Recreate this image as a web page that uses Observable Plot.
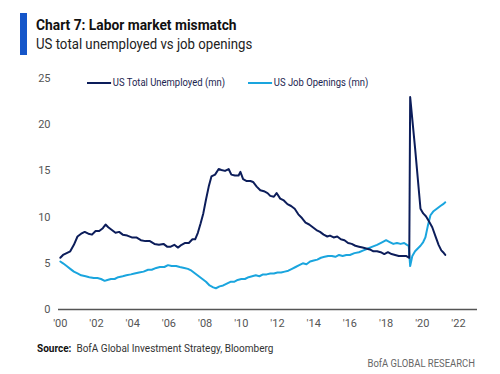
<!DOCTYPE html>
<html>
<head>
<meta charset="utf-8">
<script src="https://cdn.jsdelivr.net/npm/d3@7"></script>
<script src="https://cdn.jsdelivr.net/npm/@observablehq/plot@0.6"></script>
<style>
  body { margin: 0; background: #fff; }
  #wrap { position: relative; width: 500px; height: 374px; background: #fff; overflow: hidden;
          font-family: "Roboto", "Liberation Sans", sans-serif; color: #222; }
  .abs { position: absolute; white-space: nowrap; transform-origin: left top; }
  #bar { left: 20px; top: 13px; width: 7px; height: 42px; background: #1556c9; }
  #title { left: 36px; top: 16px; font-size: 15px; font-weight: bold; color: #111; transform: scaleX(0.92); }
  #subtitle { left: 36px; top: 35px; font-size: 15px; color: #222; transform: scaleX(0.88); }
  #chart { left: 0; top: 60px; }
  .leg { top: 76px; font-size: 11px; color: #1b2550; display: flex; align-items: center; transform: scaleX(0.86); }
  .leg span.sw { display: inline-block; width: 28px; height: 2px; margin-right: 2px; }
  #source { left: 37px; top: 342px; font-size: 11px; color: #333; transform: scaleX(0.91); }
  #source b { color: #111; }
  #brand { right: 25px; top: 357px; font-size: 11px; color: #666; transform: scaleX(0.86); transform-origin: right top; }
</style>
</head>
<body>
<div id="wrap">
  <div id="bar" class="abs"></div>
  <div id="title" class="abs">Chart 7: Labor market mismatch</div>
  <div id="subtitle" class="abs">US total unemployed vs job openings</div>
  <div id="chart" class="abs"></div>
  <div class="abs leg" style="left:87px"><span class="sw" style="background:#0c1d5a"></span>US Total Unemployed (mn)</div>
  <div class="abs leg" style="left:248px"><span class="sw" style="background:#1aa5de"></span>US Job Openings (mn)</div>
  <div id="source" class="abs"><b>Source:</b>&nbsp; BofA Global Investment Strategy, Bloomberg</div>
  <div id="brand" class="abs">BofA GLOBAL RESEARCH</div>
</div>
<script>
// ---- Data (x in decimal years) ----
const unemployedDates = [2000.0,2000.15,2000.35,2000.55,2000.75,2000.95,2001.15,2001.35,2001.55,2001.75,2001.95,2002.15,2002.35,2002.5,2002.65,2002.85,2003.05,2003.25,2003.45,2003.7,2003.95,2004.2,2004.45,2004.7,2004.95,2005.2,2005.45,2005.7,2005.9,2006.1,2006.3,2006.5,2006.7,2006.9,2007.1,2007.3,2007.45,2007.6,2007.75,2007.9,2008.05,2008.2,2008.35,2008.55,2008.75,2008.9,2009.1,2009.3,2009.45,2009.65,2009.85,2009.95,2010.1,2010.3,2010.5,2010.65,2010.85,2011.05,2011.25,2011.45,2011.6,2011.8,2011.95,2012.15,2012.35,2012.55,2012.75,2012.95,2013.15,2013.35,2013.55,2013.75,2013.95,2014.15,2014.35,2014.55,2014.75,2014.9,2015.1,2015.3,2015.5,2015.7,2015.9,2016.1,2016.3,2016.5,2016.7,2016.9,2017.1,2017.3,2017.5,2017.7,2017.9,2018.1,2018.3,2018.5,2018.7,2018.9,2019.1,2019.28,2019.33,2019.6,2019.9,2020.05,2020.2,2020.35,2020.55,2020.75,2020.9,2021.05,2021.15,2021.27];
const unemployedValues = [5.6,5.9,6.1,6.3,7.0,7.9,8.2,8.4,8.2,8.1,8.5,8.5,8.8,9.2,8.9,8.6,8.3,8.4,8.1,8.0,7.8,7.8,7.5,7.4,7.4,7.1,7.0,7.1,6.8,6.8,7.0,6.7,7.0,7.2,7.2,7.6,7.6,8.3,9.3,10.4,11.9,13.3,14.4,14.6,15.2,15.1,15.0,15.2,14.6,14.5,14.5,14.9,14.1,13.9,13.9,13.8,13.3,12.9,12.8,12.6,12.3,12.2,12.6,12.0,11.8,11.4,11.2,10.9,10.3,9.9,9.4,9.2,8.9,8.6,8.4,8.1,7.9,8.0,7.8,7.9,7.6,7.5,7.2,7.1,6.9,6.8,6.7,6.6,6.5,6.3,6.3,6.2,6.0,6.2,6.0,5.9,5.8,5.8,5.8,5.6,23.0,17.5,10.9,10.4,10.1,9.6,8.9,7.8,7.0,6.4,6.2,5.9];

const openingsDates = [2000.0,2000.15,2000.35,2000.55,2000.75,2000.95,2001.15,2001.4,2001.6,2001.85,2002.05,2002.25,2002.45,2002.6,2002.8,2003.0,2003.2,2003.45,2003.65,2003.9,2004.1,2004.35,2004.6,2004.85,2005.05,2005.3,2005.5,2005.75,2005.95,2006.15,2006.4,2006.6,2006.85,2007.05,2007.25,2007.45,2007.65,2007.85,2008.05,2008.25,2008.45,2008.6,2008.8,2009.0,2009.2,2009.4,2009.6,2009.8,2010.0,2010.2,2010.4,2010.6,2010.8,2011.0,2011.2,2011.4,2011.6,2011.8,2012.0,2012.2,2012.4,2012.6,2012.8,2013.0,2013.2,2013.4,2013.6,2013.8,2014.0,2014.2,2014.4,2014.6,2014.8,2015.0,2015.2,2015.4,2015.6,2015.8,2016.0,2016.25,2016.5,2016.75,2017.0,2017.25,2017.5,2017.8,2018.0,2018.2,2018.4,2018.6,2018.8,2019.0,2019.15,2019.25,2019.33,2019.45,2019.6,2019.75,2019.9,2020.05,2020.17,2020.3,2020.45,2020.6,2020.8,2021.0,2021.15,2021.27];
const openingsValues = [5.2,5.0,4.7,4.4,4.1,3.9,3.7,3.6,3.5,3.4,3.4,3.3,3.1,3.2,3.3,3.3,3.5,3.6,3.7,3.8,3.9,4.0,4.1,4.3,4.3,4.5,4.6,4.6,4.8,4.7,4.7,4.6,4.5,4.4,4.2,3.9,3.6,3.3,3.0,2.6,2.4,2.3,2.5,2.6,2.8,3.0,3.0,3.2,3.3,3.3,3.5,3.6,3.7,3.6,3.8,3.8,3.9,3.9,4.0,4.0,4.1,4.2,4.4,4.6,4.8,5.0,4.9,5.2,5.3,5.4,5.6,5.7,5.8,5.8,5.7,5.9,5.8,5.9,5.9,6.1,6.2,6.4,6.6,6.8,7.0,7.3,7.5,7.3,7.1,7.2,7.1,7.2,7.0,6.9,4.7,5.8,6.3,6.6,6.9,7.3,7.8,9.0,10.2,10.6,10.9,11.2,11.4,11.6];

const xTickValues = [2000,2002,2004,2006,2008,2010,2012,2014,2016,2018,2020,2022];
const xTickLabels = ["'00","'02","'04","'06","'08","'10","'12","'14","'16","'18","'20","'22"];
const yTickValues = [0,5,10,15,20,25];

const unemployed = unemployedDates.map((d, i) => ({date: d, value: unemployedValues[i]}));
const openings = openingsDates.map((d, i) => ({date: d, value: openingsValues[i]}));

const chart = Plot.plot({
  width: 500,
  height: 280,
  marginTop: 18,
  marginBottom: 31,
  marginLeft: 58,
  marginRight: 23,
  style: { fontFamily: '"Roboto", sans-serif', fontSize: "11px", color: "#555", background: "#fff" },
  x: { domain: [1999.9, 2023.05], label: null },
  y: { domain: [0, 25], label: null },
  marks: [
    Plot.axisX({ ticks: xTickValues, tickFormat: d => xTickLabels[xTickValues.indexOf(d)], tickSize: 0, tickPadding: 10, label: null }),
    Plot.axisY({ ticks: yTickValues, tickSize: 0, tickPadding: 8, label: null }),
    Plot.ruleY([0], { stroke: "#555", strokeWidth: 1.5 }),
    Plot.line(openings, { x: "date", y: "value", stroke: "#1aa5de", strokeWidth: 2 }),
    Plot.line(unemployed, { x: "date", y: "value", stroke: "#0c1d5a", strokeWidth: 2 })
  ]
});
document.getElementById("chart").appendChild(chart);
</script>
</body>
</html>
